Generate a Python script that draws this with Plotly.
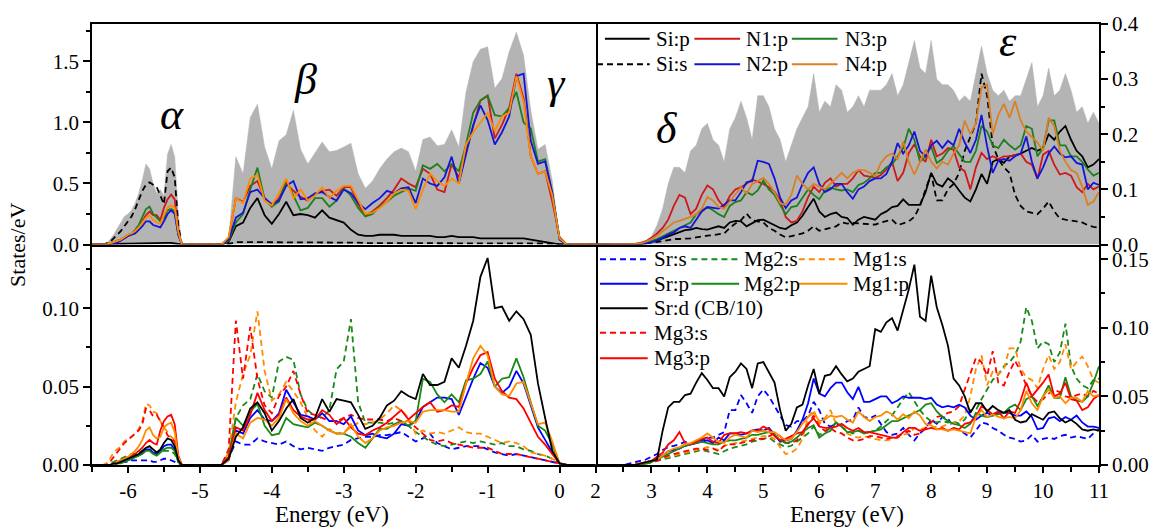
import numpy as np
import plotly.graph_objects as go

# ---------------------------------------------------------------------------
# Energy sampling grids (eV)
# ---------------------------------------------------------------------------
E_ALPHA = np.round(np.arange(-6.35, -5.249, 0.05), 2).tolist()   # lower valence band
E_VB = np.round(np.arange(-4.70, 0.101, 0.10), 2).tolist()       # upper valence band
E_CB = np.round(np.arange(2.50, 11.001, 0.10), 2).tolist()       # conduction band
E_LEFT = (-6.5, 0.5)
E_RIGHT = (2.0, 11.0)

# ---------------------------------------------------------------------------
# Upper panels: total DOS and Si / N partial DOS (States/eV)
# ---------------------------------------------------------------------------
TOT_A = [0, 0.01, 0.04, 0.08, 0.13, 0.18, 0.23, 0.25, 0.28, 0.34, 0.42, 0.53, 0.66, 0.62, 0.50,
         0.42, 0.45, 0.40, 0.74, 0.82, 0.72, 0.25, 0]
TOT_VB = [0, 0.05, 0.72, 0.58, 1.04, 1.15, 0.80, 0.62, 0.85, 0.90, 1.10, 0.78, 0.66, 0.75, 0.84,
          0.76, 0.77, 0.80, 0.83, 0.58, 0.46, 0.52, 0.62, 0.70, 0.76, 0.79, 0.76, 0.60, 0.86, 0.88,
          0.81, 0.82, 0.94, 0.80, 1.25, 1.50, 1.60, 1.62, 1.28, 1.36, 1.58, 1.74, 1.55, 1.10, 0.78,
          0.82, 0.52, 0.05, 0]
TOT_CB = [0, 0, 0, 0.003, 0.006, 0.015, 0.035, 0.065, 0.11, 0.14,
          0.14, 0.13, 0.17, 0.18, 0.21, 0.22, 0.19, 0.18, 0.15, 0.21,
          0.23, 0.26, 0.23, 0.19, 0.27, 0.27, 0.25, 0.21, 0.19, 0.15,
          0.18, 0.21, 0.23, 0.25, 0.31, 0.24, 0.26, 0.25, 0.29, 0.28,
          0.24, 0.25, 0.27, 0.25, 0.28, 0.28, 0.28, 0.29, 0.31, 0.27,
          0.29, 0.33, 0.37, 0.32, 0.31, 0.37, 0.30, 0.29, 0.29, 0.28,
          0.26, 0.27, 0.26, 0.31, 0.36, 0.31, 0.28, 0.27, 0.28, 0.26,
          0.27, 0.27, 0.30, 0.33, 0.25, 0.27, 0.32, 0.27, 0.28, 0.31,
          0.28, 0.24, 0.25, 0.22, 0.24, 0.22]

SIP_A = [0, 0, 0.002, 0.003, 0.004, 0.005, 0.006, 0.007, 0.008, 0.009, 0.010, 0.011, 0.012, 0.012,
         0.011, 0.011, 0.011, 0.012, 0.013, 0.013, 0.011, 0.004, 0]
SIP_VB = [0, 0.02, 0.15, 0.18, 0.30, 0.38, 0.24, 0.17, 0.25, 0.35, 0.24, 0.25, 0.24, 0.22, 0.28,
          0.22, 0.20, 0.18, 0.12, 0.08, 0.07, 0.07, 0.08, 0.08, 0.08, 0.07, 0.07, 0.07, 0.07, 0.07,
          0.06, 0.06, 0.07, 0.06, 0.06, 0.06, 0.05, 0.05, 0.05, 0.05, 0.05, 0.05, 0.05, 0.04, 0.03,
          0.02, 0.01, 0, 0]
SIP_CB = [0, 0, 0, 0.001, 0.002, 0.004, 0.007, 0.011, 0.015, 0.018,
          0.022, 0.026, 0.027, 0.030, 0.028, 0.027, 0.030, 0.033, 0.030, 0.040,
          0.043, 0.042, 0.033, 0.038, 0.044, 0.045, 0.040, 0.036, 0.030, 0.028,
          0.035, 0.040, 0.052, 0.068, 0.083, 0.060, 0.050, 0.055, 0.058, 0.050,
          0.048, 0.036, 0.045, 0.050, 0.048, 0.045, 0.055, 0.060, 0.068, 0.070,
          0.082, 0.072, 0.072, 0.072, 0.095, 0.130, 0.110, 0.105, 0.120, 0.112,
          0.098, 0.085, 0.078, 0.100, 0.128, 0.110, 0.150, 0.155, 0.148, 0.160,
          0.162, 0.165, 0.170, 0.175, 0.170, 0.175, 0.200, 0.190, 0.205, 0.215,
          0.190, 0.170, 0.160, 0.140, 0.145, 0.155]

SIS_A = [0, 0.01, 0.02, 0.05, 0.08, 0.11, 0.15, 0.19, 0.23, 0.29, 0.37, 0.44, 0.49, 0.51, 0.49,
         0.47, 0.40, 0.33, 0.60, 0.63, 0.55, 0.15, 0]
SIS_VB = [0, 0.005, 0.02, 0.02, 0.02, 0.02, 0.02, 0.02, 0.02, 0.02, 0.02, 0.02, 0.02, 0.02, 0.02,
          0.02, 0.02, 0.015, 0.015, 0.015, 0.012, 0.012, 0.012, 0.012, 0.012, 0.012, 0.012, 0.012,
          0.012, 0.011, 0.011, 0.011, 0.011, 0.011, 0.010, 0.010, 0.010, 0.010, 0.010, 0.009, 0.009,
          0.009, 0.008, 0.008, 0.008, 0.008, 0.005, 0, 0]
SIS_CB = [0, 0, 0, 0.001, 0.002, 0.003, 0.004, 0.006, 0.008, 0.010,
          0.010, 0.010, 0.011, 0.013, 0.015, 0.016, 0.017, 0.018, 0.020, 0.030,
          0.038, 0.044, 0.056, 0.044, 0.042, 0.040, 0.030, 0.025, 0.018, 0.013,
          0.015, 0.018, 0.020, 0.025, 0.033, 0.025, 0.028, 0.030, 0.033, 0.040,
          0.038, 0.039, 0.038, 0.038, 0.037, 0.036, 0.040, 0.042, 0.045, 0.035,
          0.038, 0.042, 0.050, 0.070, 0.100, 0.128, 0.080, 0.080, 0.100, 0.110,
          0.130, 0.170, 0.195, 0.220, 0.310, 0.270, 0.180, 0.155, 0.140, 0.130,
          0.090, 0.070, 0.060, 0.058, 0.055, 0.065, 0.078, 0.060, 0.047, 0.045,
          0.044, 0.042, 0.040, 0.035, 0.032, 0.030]

N1_A = [0, 0, 0.01, 0.02, 0.03, 0.04, 0.05, 0.07, 0.08, 0.10, 0.14, 0.19, 0.24, 0.27, 0.24,
        0.24, 0.20, 0.30, 0.37, 0.41, 0.37, 0.10, 0]
N1_VB = [0, 0.05, 0.38, 0.35, 0.48, 0.52, 0.38, 0.31, 0.38, 0.50, 0.44, 0.39, 0.36, 0.41, 0.44,
         0.45, 0.40, 0.47, 0.47, 0.33, 0.24, 0.27, 0.32, 0.38, 0.45, 0.54, 0.50, 0.47, 0.62, 0.58,
         0.45, 0.43, 0.66, 0.55, 0.76, 0.98, 1.18, 1.22, 0.87, 0.98, 1.12, 1.40, 1.20, 0.72, 0.58,
         0.60, 0.35, 0.06, 0]
N1_CB = [0, 0, 0.001, 0.003, 0.006, 0.012, 0.020, 0.030, 0.045, 0.070,
         0.090, 0.085, 0.055, 0.065, 0.090, 0.107, 0.100, 0.080, 0.068, 0.088,
         0.100, 0.104, 0.110, 0.118, 0.114, 0.110, 0.104, 0.096, 0.080, 0.050,
         0.040, 0.043, 0.060, 0.086, 0.105, 0.095, 0.112, 0.120, 0.105, 0.110,
         0.110, 0.120, 0.135, 0.125, 0.123, 0.121, 0.126, 0.136, 0.150, 0.115,
         0.130, 0.166, 0.182, 0.160, 0.150, 0.190, 0.160, 0.165, 0.175, 0.172,
         0.140, 0.133, 0.100, 0.140, 0.166, 0.155, 0.160, 0.155, 0.160, 0.160,
         0.162, 0.165, 0.150, 0.145, 0.119, 0.163, 0.170, 0.145, 0.127, 0.130,
         0.125, 0.104, 0.095, 0.110, 0.100, 0.105]

N2_A = [0, 0, 0.005, 0.01, 0.015, 0.03, 0.05, 0.07, 0.08, 0.09, 0.12, 0.15, 0.19, 0.19, 0.16,
        0.15, 0.14, 0.19, 0.25, 0.28, 0.25, 0.08, 0]
N2_VB = [0, 0.04, 0.22, 0.26, 0.43, 0.45, 0.38, 0.33, 0.36, 0.48, 0.52, 0.37, 0.38, 0.42, 0.43,
         0.39, 0.36, 0.45, 0.42, 0.34, 0.29, 0.34, 0.38, 0.44, 0.42, 0.46, 0.47, 0.34, 0.54, 0.50,
         0.48, 0.55, 0.72, 0.50, 0.74, 0.98, 1.14, 1.02, 0.82, 0.92, 1.05, 1.38, 1.40, 0.85, 0.66,
         0.68, 0.42, 0.04, 0]
N2_CB = [0, 0, 0, 0.001, 0.002, 0.004, 0.008, 0.012, 0.018, 0.022,
         0.030, 0.033, 0.030, 0.045, 0.060, 0.068, 0.067, 0.065, 0.072, 0.080,
         0.080, 0.095, 0.113, 0.115, 0.152, 0.150, 0.146, 0.120, 0.085, 0.066,
         0.080, 0.085, 0.110, 0.130, 0.140, 0.110, 0.095, 0.100, 0.110, 0.110,
         0.095, 0.083, 0.100, 0.105, 0.115, 0.120, 0.120, 0.128, 0.150, 0.184,
         0.165, 0.180, 0.205, 0.170, 0.160, 0.180, 0.188, 0.175, 0.188, 0.180,
         0.210, 0.185, 0.166, 0.190, 0.235, 0.178, 0.130, 0.152, 0.155, 0.152,
         0.160, 0.165, 0.196, 0.150, 0.120, 0.140, 0.165, 0.178, 0.165, 0.158,
         0.160, 0.148, 0.145, 0.100, 0.112, 0.108]

N3_A = [0, 0, 0.01, 0.02, 0.03, 0.04, 0.06, 0.08, 0.09, 0.12, 0.16, 0.22, 0.29, 0.31, 0.25,
        0.22, 0.19, 0.22, 0.28, 0.29, 0.27, 0.08, 0]
N3_VB = [0, 0.03, 0.18, 0.25, 0.45, 0.63, 0.37, 0.31, 0.35, 0.53, 0.40, 0.28, 0.30, 0.38, 0.38,
         0.31, 0.36, 0.46, 0.40, 0.30, 0.23, 0.25, 0.31, 0.35, 0.40, 0.43, 0.46, 0.44, 0.65, 0.62,
         0.66, 0.60, 0.66, 0.60, 0.82, 1.08, 1.18, 1.22, 1.06, 1.05, 1.12, 1.25, 1.00, 0.95, 0.68,
         0.70, 0.42, 0.05, 0]
N3_CB = [0, 0, 0, 0.001, 0.003, 0.006, 0.010, 0.015, 0.020, 0.025,
         0.030, 0.036, 0.040, 0.055, 0.062, 0.068, 0.062, 0.055, 0.050, 0.070,
         0.077, 0.080, 0.095, 0.090, 0.098, 0.116, 0.100, 0.090, 0.072, 0.055,
         0.068, 0.070, 0.085, 0.100, 0.090, 0.082, 0.098, 0.103, 0.100, 0.098,
         0.100, 0.095, 0.108, 0.112, 0.120, 0.130, 0.130, 0.140, 0.145, 0.160,
         0.175, 0.210, 0.190, 0.150, 0.160, 0.178, 0.148, 0.155, 0.170, 0.178,
         0.165, 0.150, 0.150, 0.170, 0.215, 0.205, 0.180, 0.175, 0.190, 0.180,
         0.172, 0.180, 0.215, 0.210, 0.160, 0.175, 0.225, 0.225, 0.180, 0.180,
         0.160, 0.160, 0.150, 0.136, 0.125, 0.130]

N4_A = [0, 0, 0.01, 0.02, 0.03, 0.04, 0.06, 0.08, 0.09, 0.11, 0.14, 0.18, 0.22, 0.24, 0.20,
        0.18, 0.17, 0.24, 0.30, 0.32, 0.30, 0.10, 0]
N4_VB = [0, 0.06, 0.38, 0.34, 0.54, 0.57, 0.36, 0.32, 0.42, 0.54, 0.38, 0.45, 0.36, 0.40, 0.47,
         0.38, 0.44, 0.48, 0.48, 0.36, 0.25, 0.26, 0.30, 0.35, 0.42, 0.45, 0.44, 0.29, 0.45, 0.58,
         0.52, 0.48, 0.54, 0.50, 0.82, 0.92, 1.00, 1.08, 0.93, 1.05, 1.08, 1.38, 1.17, 0.72, 0.58,
         0.60, 0.40, 0.05, 0]
N4_CB = [0, 0, 0.001, 0.002, 0.005, 0.010, 0.016, 0.024, 0.032, 0.040,
         0.043, 0.046, 0.050, 0.055, 0.065, 0.086, 0.080, 0.068, 0.065, 0.078,
         0.090, 0.104, 0.092, 0.110, 0.115, 0.121, 0.110, 0.095, 0.075, 0.072,
         0.090, 0.125, 0.110, 0.100, 0.110, 0.105, 0.100, 0.110, 0.120, 0.130,
         0.120, 0.130, 0.135, 0.135, 0.130, 0.124, 0.148, 0.160, 0.165, 0.155,
         0.187, 0.150, 0.127, 0.150, 0.172, 0.150, 0.138, 0.150, 0.145, 0.165,
         0.180, 0.225, 0.200, 0.220, 0.285, 0.290, 0.200, 0.235, 0.255, 0.230,
         0.260, 0.225, 0.205, 0.195, 0.185, 0.170, 0.230, 0.215, 0.170, 0.150,
         0.135, 0.130, 0.105, 0.072, 0.078, 0.095]

# ---------------------------------------------------------------------------
# Lower panels: Sr / Mg partial DOS (States/eV)
# ---------------------------------------------------------------------------
SRS_A = [0, 0, 0, 0.001, 0.001, 0.002, 0.002, 0.002, 0.003, 0.003, 0.003, 0.003, 0.003, 0.003,
         0.002, 0.002, 0.003, 0.004, 0.004, 0.003, 0.002, 0.001, 0]
SRS_VB = [0, 0.004, 0.015, 0.013, 0.013, 0.017, 0.015, 0.014, 0.013, 0.015,
          0.012, 0.010, 0.011, 0.010, 0.009, 0.011, 0.012, 0.013, 0.016, 0.017,
          0.018, 0.018, 0.019, 0.019, 0.020, 0.021, 0.018, 0.015, 0.017, 0.020,
          0.014, 0.012, 0.010, 0.011, 0.012, 0.012, 0.012, 0.010, 0.008, 0.007,
          0.006, 0.007, 0.006, 0.005, 0.004, 0.003, 0.002, 0.001, 0]
SRS_CB = [0, 0.001, 0.002, 0.003, 0.004, 0.006, 0.008, 0.011, 0.013, 0.014,
          0.015, 0.017, 0.016, 0.016, 0.018, 0.020, 0.020, 0.022, 0.024, 0.040,
          0.040, 0.051, 0.045, 0.038, 0.050, 0.055, 0.050, 0.043, 0.036, 0.029,
          0.028, 0.032, 0.032, 0.036, 0.046, 0.040, 0.030, 0.028, 0.030, 0.029,
          0.032, 0.033, 0.042, 0.035, 0.034, 0.036, 0.030, 0.024, 0.022, 0.023,
          0.027, 0.022, 0.018, 0.023, 0.027, 0.033, 0.030, 0.035, 0.034, 0.027,
          0.025, 0.023, 0.020, 0.025, 0.031, 0.030, 0.027, 0.025, 0.022, 0.020,
          0.019, 0.017, 0.018, 0.022, 0.017, 0.019, 0.020, 0.019, 0.021, 0.022,
          0.020, 0.021, 0.020, 0.019, 0.023, 0.026]

MG2S_A = [0, 0, 0.001, 0.002, 0.003, 0.004, 0.005, 0.006, 0.007, 0.007, 0.008, 0.009, 0.011,
          0.012, 0.009, 0.007, 0.009, 0.009, 0.009, 0.009, 0.007, 0.002, 0]
MG2S_VB = [0, 0.006, 0.030, 0.038, 0.042, 0.058, 0.047, 0.043, 0.066, 0.069,
           0.067, 0.045, 0.035, 0.031, 0.030, 0.035, 0.061, 0.066, 0.093, 0.040,
           0.027, 0.027, 0.027, 0.026, 0.027, 0.027, 0.025, 0.021, 0.018, 0.015,
           0.013, 0.012, 0.013, 0.014, 0.015, 0.014, 0.015, 0.014, 0.013, 0.014,
           0.012, 0.012, 0.010, 0.009, 0.007, 0.006, 0.004, 0.001, 0]
MG2S_CB = [0, 0, 0, 0, 0.001, 0.002, 0.003, 0.004, 0.005, 0.006,
           0.007, 0.008, 0.009, 0.010, 0.011, 0.010, 0.009, 0.008, 0.010, 0.012,
           0.013, 0.014, 0.015, 0.017, 0.018, 0.019, 0.020, 0.017, 0.015, 0.013,
           0.014, 0.017, 0.020, 0.023, 0.028, 0.022, 0.024, 0.027, 0.031, 0.028,
           0.025, 0.023, 0.025, 0.024, 0.024, 0.025, 0.028, 0.032, 0.036, 0.042,
           0.048, 0.053, 0.046, 0.040, 0.035, 0.032, 0.031, 0.032, 0.031, 0.032,
           0.030, 0.033, 0.040, 0.040, 0.048, 0.055, 0.062, 0.066, 0.072, 0.075,
           0.080, 0.090, 0.115, 0.105, 0.085, 0.090, 0.088, 0.075, 0.082, 0.103,
           0.072, 0.063, 0.058, 0.056, 0.062, 0.063]

MG1S_A = [0, 0.001, 0.004, 0.008, 0.010, 0.012, 0.015, 0.017, 0.018, 0.020, 0.023, 0.028, 0.039,
          0.038, 0.034, 0.033, 0.028, 0.024, 0.021, 0.018, 0.016, 0.005, 0]
MG1S_VB = [0, 0.008, 0.040, 0.058, 0.070, 0.098, 0.060, 0.041, 0.045, 0.053,
           0.047, 0.040, 0.030, 0.022, 0.018, 0.023, 0.020, 0.021, 0.024, 0.027,
           0.026, 0.027, 0.029, 0.033, 0.038, 0.035, 0.030, 0.020, 0.022, 0.020,
           0.021, 0.020, 0.022, 0.024, 0.021, 0.020, 0.020, 0.018, 0.016, 0.014,
           0.015, 0.014, 0.012, 0.008, 0.007, 0.006, 0.004, 0.001, 0]
MG1S_CB = [0, 0, 0, 0.001, 0.002, 0.003, 0.004, 0.005, 0.006, 0.007,
           0.008, 0.009, 0.010, 0.011, 0.012, 0.013, 0.012, 0.011, 0.014, 0.015,
           0.016, 0.017, 0.018, 0.019, 0.020, 0.021, 0.021, 0.019, 0.013, 0.008,
           0.009, 0.012, 0.019, 0.035, 0.040, 0.030, 0.034, 0.040, 0.030, 0.028,
           0.023, 0.021, 0.020, 0.021, 0.020, 0.019, 0.018, 0.018, 0.019, 0.020,
           0.022, 0.023, 0.027, 0.026, 0.027, 0.027, 0.028, 0.028, 0.030, 0.031,
           0.032, 0.036, 0.050, 0.070, 0.080, 0.058, 0.068, 0.066, 0.070, 0.085,
           0.085, 0.070, 0.064, 0.062, 0.056, 0.070, 0.080, 0.070, 0.075, 0.088,
           0.070, 0.075, 0.079, 0.072, 0.062, 0.060]

MG3S_A = [0, 0, 0.002, 0.005, 0.008, 0.011, 0.014, 0.016, 0.018, 0.020, 0.022, 0.026, 0.036,
          0.035, 0.031, 0.032, 0.028, 0.024, 0.019, 0.017, 0.015, 0.005, 0]
MG3S_VB = [0, 0.010, 0.092, 0.055, 0.088, 0.055, 0.038, 0.033, 0.044, 0.050,
           0.060, 0.045, 0.033, 0.032, 0.030, 0.028, 0.028, 0.030, 0.032, 0.030,
           0.029, 0.029, 0.029, 0.028, 0.030, 0.028, 0.028, 0.024, 0.020, 0.016,
           0.015, 0.016, 0.014, 0.013, 0.012, 0.011, 0.011, 0.011, 0.009, 0.007,
           0.007, 0.007, 0.006, 0.005, 0.004, 0.003, 0.002, 0.001, 0]
MG3S_CB = [0, 0, 0.001, 0.001, 0.002, 0.002, 0.003, 0.005, 0.007, 0.008,
           0.009, 0.010, 0.011, 0.012, 0.012, 0.011, 0.012, 0.010, 0.014, 0.015,
           0.015, 0.016, 0.017, 0.018, 0.019, 0.019, 0.021, 0.023, 0.021, 0.016,
           0.016, 0.018, 0.023, 0.030, 0.036, 0.028, 0.025, 0.027, 0.024, 0.023,
           0.020, 0.018, 0.018, 0.019, 0.021, 0.021, 0.020, 0.019, 0.020, 0.021,
           0.023, 0.025, 0.022, 0.023, 0.027, 0.031, 0.035, 0.036, 0.038, 0.039,
           0.043, 0.055, 0.066, 0.078, 0.075, 0.065, 0.083, 0.060, 0.058, 0.068,
           0.076, 0.068, 0.058, 0.050, 0.046, 0.048, 0.052, 0.055, 0.053, 0.050,
           0.049, 0.051, 0.052, 0.050, 0.054, 0.052]

SRP_A = [0, 0, 0, 0, 0.001, 0.002, 0.002, 0.003, 0.004, 0.005, 0.006, 0.008, 0.010, 0.010,
         0.008, 0.007, 0.009, 0.012, 0.013, 0.013, 0.010, 0.002, 0]
SRP_VB = [0, 0.003, 0.022, 0.020, 0.030, 0.035, 0.029, 0.028, 0.033, 0.048,
          0.040, 0.032, 0.031, 0.029, 0.033, 0.028, 0.028, 0.026, 0.031, 0.022,
          0.019, 0.020, 0.018, 0.017, 0.020, 0.026, 0.025, 0.028, 0.037, 0.040,
          0.043, 0.043, 0.042, 0.032, 0.044, 0.055, 0.065, 0.062, 0.050, 0.046,
          0.050, 0.060, 0.052, 0.038, 0.024, 0.016, 0.008, 0.001, 0]
SRP_CB = [0, 0, 0, 0.001, 0.002, 0.003, 0.005, 0.007, 0.010, 0.011,
          0.012, 0.014, 0.015, 0.016, 0.017, 0.018, 0.016, 0.020, 0.018, 0.023,
          0.023, 0.022, 0.023, 0.025, 0.026, 0.025, 0.027, 0.022, 0.017, 0.018,
          0.019, 0.025, 0.033, 0.045, 0.063, 0.052, 0.050, 0.056, 0.060, 0.060,
          0.053, 0.048, 0.057, 0.046, 0.046, 0.048, 0.050, 0.050, 0.045, 0.047,
          0.050, 0.049, 0.049, 0.049, 0.048, 0.049, 0.044, 0.042, 0.043, 0.042,
          0.044, 0.042, 0.036, 0.033, 0.036, 0.038, 0.036, 0.038, 0.038, 0.038,
          0.036, 0.036, 0.039, 0.035, 0.026, 0.027, 0.034, 0.035, 0.032, 0.035,
          0.033, 0.036, 0.031, 0.028, 0.028, 0.027]

MG2P_A = [0, 0, 0, 0, 0.001, 0.001, 0.002, 0.003, 0.004, 0.005, 0.006, 0.007, 0.009, 0.009,
          0.007, 0.006, 0.008, 0.010, 0.011, 0.011, 0.009, 0.002, 0]
MG2P_VB = [0, 0.005, 0.030, 0.025, 0.034, 0.039, 0.025, 0.019, 0.020, 0.030,
           0.026, 0.025, 0.024, 0.027, 0.025, 0.022, 0.020, 0.020, 0.018, 0.014,
           0.011, 0.017, 0.023, 0.023, 0.026, 0.028, 0.025, 0.028, 0.055, 0.053,
           0.045, 0.040, 0.045, 0.040, 0.054, 0.055, 0.058, 0.066, 0.050, 0.055,
           0.056, 0.068, 0.056, 0.040, 0.025, 0.022, 0.013, 0.001, 0]
MG2P_CB = [0, 0, 0, 0, 0.001, 0.002, 0.004, 0.006, 0.008, 0.010,
           0.012, 0.014, 0.015, 0.016, 0.017, 0.016, 0.015, 0.015, 0.017, 0.018,
           0.018, 0.019, 0.020, 0.022, 0.022, 0.023, 0.024, 0.022, 0.018, 0.016,
           0.017, 0.020, 0.024, 0.027, 0.029, 0.020, 0.023, 0.025, 0.031, 0.028,
           0.024, 0.024, 0.025, 0.023, 0.024, 0.025, 0.026, 0.029, 0.032, 0.032,
           0.034, 0.036, 0.038, 0.040, 0.044, 0.045, 0.039, 0.035, 0.032, 0.030,
           0.029, 0.027, 0.030, 0.038, 0.036, 0.035, 0.036, 0.037, 0.038, 0.042,
           0.044, 0.040, 0.048, 0.050, 0.043, 0.050, 0.058, 0.049, 0.049, 0.064,
           0.050, 0.047, 0.046, 0.050, 0.060, 0.072]

MG1P_A = [0, 0, 0, 0.001, 0.002, 0.003, 0.004, 0.005, 0.007, 0.009, 0.012, 0.016, 0.022, 0.024,
          0.019, 0.017, 0.018, 0.024, 0.026, 0.027, 0.021, 0.005, 0]
MG1P_VB = [0, 0.003, 0.020, 0.017, 0.027, 0.030, 0.029, 0.025, 0.030, 0.042,
           0.033, 0.028, 0.025, 0.028, 0.025, 0.022, 0.020, 0.020, 0.026, 0.018,
           0.014, 0.017, 0.022, 0.024, 0.025, 0.027, 0.028, 0.027, 0.034, 0.035,
           0.035, 0.035, 0.034, 0.034, 0.052, 0.068, 0.076, 0.070, 0.050, 0.045,
           0.044, 0.052, 0.053, 0.040, 0.026, 0.027, 0.015, 0.001, 0]
MG1P_CB = [0, 0, 0, 0.001, 0.002, 0.003, 0.004, 0.007, 0.010, 0.012,
           0.013, 0.015, 0.016, 0.018, 0.020, 0.023, 0.020, 0.017, 0.016, 0.020,
           0.022, 0.021, 0.020, 0.025, 0.024, 0.025, 0.024, 0.024, 0.021, 0.018,
           0.019, 0.024, 0.030, 0.035, 0.038, 0.032, 0.033, 0.036, 0.035, 0.036,
           0.033, 0.031, 0.039, 0.035, 0.032, 0.035, 0.036, 0.039, 0.037, 0.033,
           0.037, 0.034, 0.039, 0.036, 0.030, 0.029, 0.026, 0.026, 0.025, 0.026,
           0.025, 0.024, 0.023, 0.035, 0.040, 0.035, 0.037, 0.035, 0.034, 0.035,
           0.034, 0.040, 0.054, 0.045, 0.040, 0.050, 0.055, 0.049, 0.050, 0.045,
           0.049, 0.049, 0.046, 0.054, 0.050, 0.051]

MG3P_A = [0, 0, 0, 0.001, 0.002, 0.003, 0.004, 0.005, 0.006, 0.007, 0.009, 0.011, 0.014, 0.016,
          0.014, 0.013, 0.022, 0.028, 0.031, 0.032, 0.026, 0.006, 0]
MG3P_VB = [0, 0.005, 0.024, 0.022, 0.032, 0.046, 0.035, 0.028, 0.032, 0.043,
           0.035, 0.031, 0.029, 0.029, 0.035, 0.032, 0.026, 0.030, 0.024, 0.020,
           0.019, 0.022, 0.024, 0.027, 0.031, 0.035, 0.029, 0.033, 0.037, 0.040,
           0.034, 0.035, 0.038, 0.037, 0.052, 0.062, 0.070, 0.072, 0.055, 0.047,
           0.043, 0.042, 0.036, 0.027, 0.018, 0.013, 0.007, 0.001, 0]
MG3P_CB = [0, 0, 0, 0.001, 0.002, 0.003, 0.006, 0.009, 0.015, 0.018,
           0.024, 0.016, 0.015, 0.017, 0.019, 0.020, 0.017, 0.016, 0.022, 0.023,
           0.023, 0.024, 0.023, 0.025, 0.025, 0.028, 0.026, 0.021, 0.018, 0.019,
           0.021, 0.023, 0.024, 0.030, 0.034, 0.028, 0.027, 0.027, 0.028, 0.030,
           0.027, 0.025, 0.027, 0.024, 0.024, 0.023, 0.022, 0.021, 0.020, 0.020,
           0.024, 0.027, 0.027, 0.025, 0.026, 0.027, 0.026, 0.027, 0.025, 0.027,
           0.026, 0.030, 0.031, 0.035, 0.043, 0.040, 0.037, 0.039, 0.034, 0.039,
           0.038, 0.047, 0.060, 0.050, 0.055, 0.060, 0.066, 0.050, 0.052, 0.060,
           0.048, 0.047, 0.040, 0.042, 0.048, 0.051]

# Sr:d in the conduction band is already divided by 10
SRD_A = [0, 0, 0, 0.001, 0.001, 0.002, 0.003, 0.004, 0.005, 0.006, 0.007, 0.009, 0.011, 0.012,
         0.010, 0.008, 0.010, 0.014, 0.017, 0.016, 0.012, 0.003, 0]
SRD_VB = [0, 0.004, 0.018, 0.024, 0.036, 0.040, 0.033, 0.022, 0.028, 0.036,
          0.042, 0.030, 0.027, 0.030, 0.042, 0.034, 0.042, 0.041, 0.040, 0.032,
          0.023, 0.025, 0.030, 0.038, 0.041, 0.047, 0.044, 0.042, 0.058, 0.051,
          0.051, 0.053, 0.068, 0.062, 0.076, 0.092, 0.120, 0.132, 0.100, 0.101,
          0.092, 0.098, 0.093, 0.083, 0.052, 0.030, 0.009, 0.001, 0]
SRD_CB = [0, 0, 0, 0.001, 0.002, 0.003, 0.004, 0.025, 0.042, 0.046,
          0.046, 0.051, 0.052, 0.060, 0.067, 0.062, 0.056, 0.056, 0.050, 0.064,
          0.068, 0.074, 0.070, 0.056, 0.074, 0.075, 0.068, 0.060, 0.040, 0.025,
          0.030, 0.042, 0.044, 0.058, 0.070, 0.052, 0.065, 0.066, 0.072, 0.066,
          0.061, 0.063, 0.068, 0.070, 0.072, 0.099, 0.097, 0.104, 0.107, 0.098,
          0.113, 0.128, 0.146, 0.108, 0.105, 0.138, 0.115, 0.102, 0.087, 0.063,
          0.058, 0.050, 0.038, 0.045, 0.045, 0.039, 0.043, 0.040, 0.038, 0.040,
          0.033, 0.031, 0.032, 0.037, 0.035, 0.033, 0.038, 0.039, 0.034, 0.031,
          0.033, 0.030, 0.026, 0.025, 0.026, 0.025]

# ---------------------------------------------------------------------------
# Styling
# ---------------------------------------------------------------------------
FONT = "Liberation Serif"
BLACK = "#000000"
GREY = "#B4B4B4"
RED_N = "#D01818"
BLUE_N = "#1414D8"
GREEN_N = "#1E7F1E"
ORANGE_N = "#FF8C00"
ORANGE_N_CB = "#DB7F22"
RED = "#FF0000"
BLUE = "#0000FF"
GREEN = "#178A17"
ORANGE = "#FF8C00"
DASH = "6px,4px"
LW = 1.8

# Plot-area geometry in pixels (used for axis domains and the key placement)
FIG_W, FIG_H = 1161, 531
M_L, M_R, M_T, M_B = 92, 56, 15, 66
PLOT_W = FIG_W - M_L - M_R
PLOT_H = FIG_H - M_T - M_B


def px_x(px):
    return (px - M_L) / PLOT_W


def px_y(py):
    return (FIG_H - M_B - py) / PLOT_H


def left_curve(a_vals, vb_vals):
    assert len(a_vals) == len(E_ALPHA) and len(vb_vals) == len(E_VB)
    x = [E_LEFT[0]] + E_ALPHA + E_VB + [E_LEFT[1]]
    y = [0.0] + list(a_vals) + list(vb_vals) + [0.0]
    return x, y


def right_curve(cb_vals):
    assert len(cb_vals) == len(E_CB)
    return [E_RIGHT[0]] + E_CB, [0.0] + list(cb_vals)


fig = go.Figure()


def add_line(x, y, xa, ya, color, dash="solid", width=LW):
    fig.add_trace(go.Scatter(x=x, y=y, xaxis=xa, yaxis=ya, mode="lines",
                             line=dict(color=color, width=width, dash=dash),
                             showlegend=False, hoverinfo="skip"))


# Upper panels -------------------------------------------------------------
x, y = left_curve(TOT_A, TOT_VB)
fig.add_trace(go.Scatter(x=x, y=y, xaxis="x3", yaxis="y3", mode="lines", fill="tozeroy",
                         fillcolor=GREY, line=dict(color=GREY, width=0.5), showlegend=False))
x, y = right_curve(TOT_CB)
fig.add_trace(go.Scatter(x=x, y=y, xaxis="x4", yaxis="y4", mode="lines", fill="tozeroy",
                         fillcolor=GREY, line=dict(color=GREY, width=0.5), showlegend=False))

upper = [
    (SIS_A, SIS_VB, SIS_CB, BLACK, BLACK, DASH),
    (SIP_A, SIP_VB, SIP_CB, BLACK, BLACK, "solid"),
    (N1_A, N1_VB, N1_CB, RED_N, RED_N, "solid"),
    (N3_A, N3_VB, N3_CB, GREEN_N, GREEN_N, "solid"),
    (N2_A, N2_VB, N2_CB, BLUE_N, BLUE_N, "solid"),
    (N4_A, N4_VB, N4_CB, ORANGE_N, ORANGE_N_CB, "solid"),
]
for a_vals, vb_vals, cb_vals, c_left, c_right, dash in upper:
    x, y = left_curve(a_vals, vb_vals)
    add_line(x, y, "x3", "y3", c_left, dash)
    x, y = right_curve(cb_vals)
    add_line(x, y, "x4", "y4", c_right, dash)

# Lower panels -------------------------------------------------------------
lower = [
    (SRS_A, SRS_VB, SRS_CB, BLUE, DASH),
    (MG2S_A, MG2S_VB, MG2S_CB, GREEN, DASH),
    (MG1S_A, MG1S_VB, MG1S_CB, ORANGE, DASH),
    (MG3S_A, MG3S_VB, MG3S_CB, RED, DASH),
    (SRP_A, SRP_VB, SRP_CB, BLUE, "solid"),
    (MG2P_A, MG2P_VB, MG2P_CB, GREEN, "solid"),
    (MG3P_A, MG3P_VB, MG3P_CB, RED, "solid"),
    (MG1P_A, MG1P_VB, MG1P_CB, ORANGE, "solid"),
    (SRD_A, SRD_VB, SRD_CB, BLACK, "solid"),
]
for a_vals, vb_vals, cb_vals, color, dash in lower:
    x, y = left_curve(a_vals, vb_vals)
    add_line(x, y, "x", "y", color, dash)
    x, y = right_curve(cb_vals)
    add_line(x, y, "x2", "y2", color, dash)

# ---------------------------------------------------------------------------
# Axes (each inner border is drawn only once so the dividers stay thin)
# ---------------------------------------------------------------------------
tickfont = dict(family=FONT, size=21, color=BLACK)
frame = dict(showline=True, linecolor=BLACK, linewidth=1.5, showgrid=False,
             zeroline=False, tickcolor=BLACK, tickwidth=1.5, tickfont=tickfont)
minor_style = dict(ticks="outside", ticklen=4, tickcolor=BLACK, tickwidth=1.5)

LEFT_TICKS = [-6, -5, -4, -3, -2, -1, 0]
RIGHT_TICKS = [2, 3, 4, 5, 6, 7, 8, 9, 10, 11]

fig.update_layout(
    xaxis=dict(frame, domain=[0, 0.5], range=list(E_LEFT), anchor="y", mirror=False,
               ticks="outside", ticklen=6,
               tickmode="array", tickvals=LEFT_TICKS, ticktext=[str(v) for v in LEFT_TICKS],
               minor=dict(minor_style, dtick=0.5, tick0=0, ticklen=5)),
    xaxis2=dict(frame, domain=[0.5, 1], range=list(E_RIGHT), anchor="y2", mirror=False,
                ticks="outside", ticklen=6,
                tickmode="array", tickvals=RIGHT_TICKS, ticktext=[str(v) for v in RIGHT_TICKS],
                minor=dict(minor_style, dtick=0.5, tick0=0, ticklen=5)),
    xaxis3=dict(frame, domain=[0, 0.5], range=list(E_LEFT), anchor="y3", mirror=True, ticks="",
                showticklabels=False),
    xaxis4=dict(frame, domain=[0.5, 1], range=list(E_RIGHT), anchor="y4", mirror=True, ticks="",
                showticklabels=False),
    yaxis=dict(frame, domain=[0, 0.5], range=[0, 0.1406], anchor="x", mirror=True,
               ticks="outside", ticklen=7,
               tickmode="linear", tick0=0, dtick=0.05, tickformat=".2f",
               minor=dict(minor_style, dtick=0.025, tick0=0)),
    yaxis2=dict(frame, domain=[0, 0.5], range=[0, 0.1607], anchor="x2", side="right", mirror=False,
                ticks="outside", ticklen=7, tickmode="linear", tick0=0, dtick=0.05,
                tickformat=".2f", minor=dict(minor_style, dtick=0.025, tick0=0)),
    yaxis3=dict(frame, domain=[0.5, 1], range=[0, 1.807], anchor="x3", mirror=True,
                ticks="outside", ticklen=7,
                tickmode="linear", tick0=0, dtick=0.5, tickformat=".1f",
                minor=dict(minor_style, dtick=0.25, tick0=0)),
    yaxis4=dict(frame, domain=[0.5, 1], range=[0, 0.4], anchor="x4", side="right", mirror=False,
                ticks="outside", ticklen=7, tickmode="linear", tick0=0, dtick=0.1,
                tickformat=".1f", minor=dict(minor_style, dtick=0.05, tick0=0)),
)

# ---------------------------------------------------------------------------
# Titles, band labels and line keys
# ---------------------------------------------------------------------------
annotations = [
    dict(text="Energy (eV)", x=px_x(333), y=px_y(515), font=dict(size=23)),
    dict(text="Energy (eV)", x=px_x(852), y=px_y(515), font=dict(size=23)),
    dict(text="States/eV", x=px_x(17), y=px_y(240), textangle=-90, font=dict(size=22)),
]
BAND_LABELS = [("α", 172, 107), ("β", 307, 72), ("γ", 559, 76), ("δ", 670, 122), ("ε", 1013, 33)]
for sym, bx, by in BAND_LABELS:
    annotations.append(dict(text=f"<i>{sym}</i>", x=px_x(bx), y=px_y(by), font=dict(size=44)))

for a in annotations:
    a.update(xref="paper", yref="paper", showarrow=False, xanchor="center", yanchor="middle")
    a["font"] = dict(family=FONT, color=BLACK, **a["font"])

# key entries: (label, colour, dash, line start, line end, text start, row centre) in pixels
KEYS = [
    ("Si:p", BLACK, "solid", 608, 653, 657, 30),
    ("N1:p", RED_N, "solid", 698, 744, 748, 30),
    ("N3:p", GREEN_N, "solid", 796, 842, 847, 30),
    ("Si:s", BLACK, DASH, 600, 653, 657, 56),
    ("N2:p", BLUE_N, "solid", 698, 744, 748, 56),
    ("N4:p", ORANGE_N_CB, "solid", 796, 842, 847, 56),
    ("Sr:s", BLUE, DASH, 603, 651, 655, 255),
    ("Mg2:s", GREEN, DASH, 695, 743, 746, 255),
    ("Mg1:s", ORANGE, DASH, 803, 852, 856, 255),
    ("Sr:p", BLUE, "solid", 603, 651, 655, 280),
    ("Mg2:p", GREEN, "solid", 695, 743, 746, 280),
    ("Mg1:p", ORANGE, "solid", 803, 852, 856, 280),
    ("Sr:d (CB/10)", BLACK, "solid", 603, 651, 655, 305),
    ("Mg3:s", RED, DASH, 603, 651, 655, 330),
    ("Mg3:p", RED, "solid", 603, 651, 655, 356),
]
shapes = []
for label, color, dash, lx0, lx1, tx, ky in KEYS:
    shapes.append(dict(type="line", xref="paper", yref="paper", x0=px_x(lx0), x1=px_x(lx1),
                       y0=px_y(ky), y1=px_y(ky), line=dict(color=color, width=2, dash=dash)))
    annotations.append(dict(text=label, xref="paper", yref="paper", x=px_x(tx), y=px_y(ky),
                            showarrow=False, xanchor="left", yanchor="middle",
                            font=dict(family=FONT, size=21, color=BLACK)))

fig.update_layout(
    width=FIG_W, height=FIG_H,
    margin=dict(l=M_L, r=M_R, t=M_T, b=M_B),
    paper_bgcolor="white", plot_bgcolor="white",
    font=dict(family=FONT, color=BLACK),
    showlegend=False,
    annotations=annotations,
    shapes=shapes,
)

fig.write_html("out.html")
